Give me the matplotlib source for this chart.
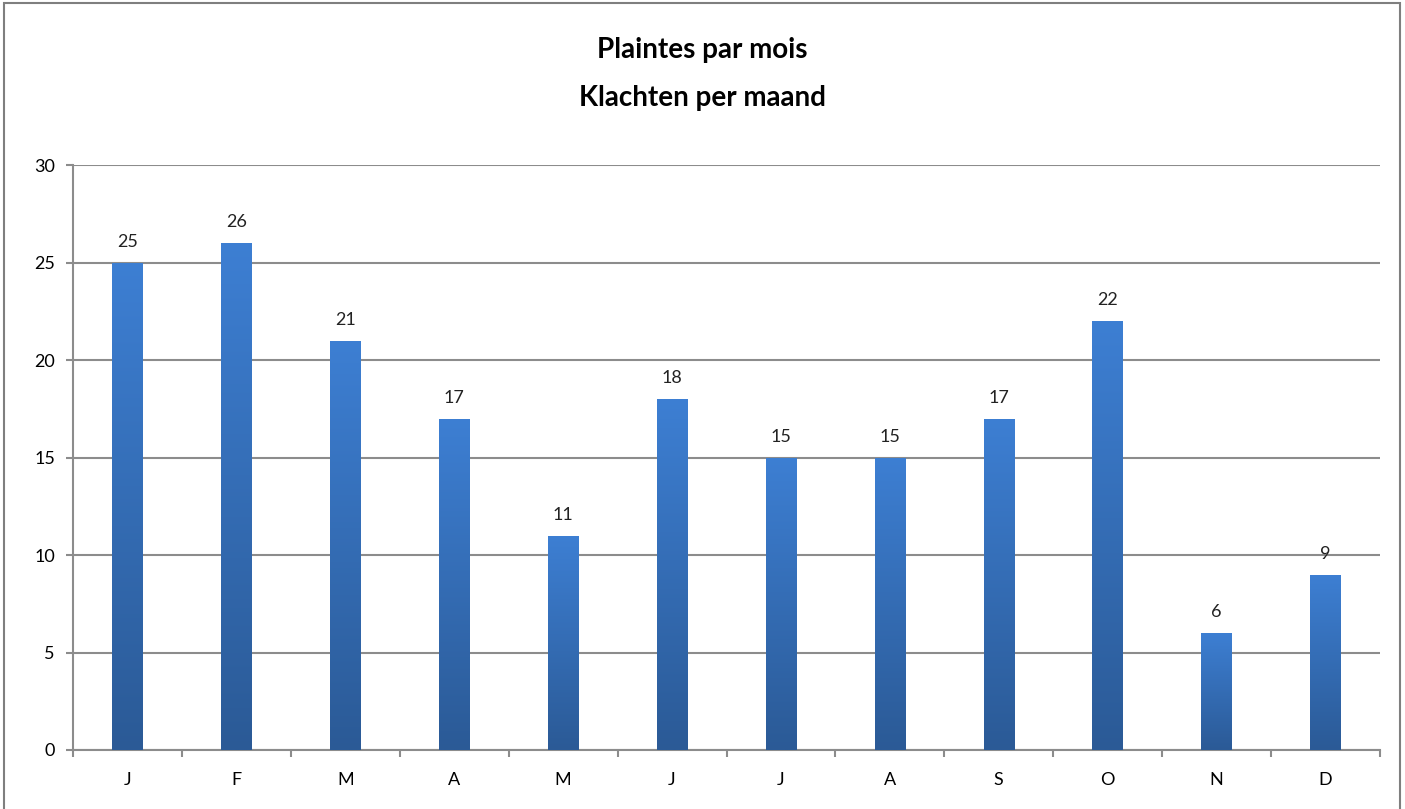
import matplotlib
matplotlib.use("Agg")
import matplotlib.pyplot as plt
import numpy as np
from matplotlib.patches import Rectangle
from matplotlib.colors import LinearSegmentedColormap

months = ["J", "F", "M", "A", "M", "J", "J", "A", "S", "O", "N", "D"]
values = [25, 26, 21, 17, 11, 18, 15, 15, 17, 22, 6, 9]
yticks = [0, 5, 10, 15, 20, 25, 30]
title_lines = ["Plaintes par mois", "Klachten per maand"]

fam = ["Lato", "DejaVu Sans"]
plt.rcParams["font.family"] = fam

fig = plt.figure(figsize=(14.05, 8.09), dpi=100)
ax = fig.add_axes([73/1405, 1-750/809, (1380-73)/1405, (750-165)/809])

grid_c = "#8c8c8c"
x = np.arange(len(months))
bw = 0.28
cmap = LinearSegmentedColormap.from_list("g", ["#2b5a96", "#3d7fd3"])
grad = np.linspace(0, 1, 256).reshape(-1, 1)
bars = ax.bar(x, values, width=bw, color="none", zorder=3)
for b, v in zip(bars, values):
    x0 = b.get_x()
    im = ax.imshow(grad, extent=[x0, x0 + bw, 0, v], origin="lower", cmap=cmap,
                   aspect="auto", zorder=3, interpolation="bilinear")
    im.set_clip_path(b)
    ax.text(b.get_x() + bw/2, v + 0.65, str(v), ha="center", va="bottom",
            fontsize=13, color="#222222")

ax.set_xlim(-0.5, len(months) - 0.5)
ax.set_ylim(0, 30)
ax.set_yticks(yticks)
ax.set_yticklabels([str(t) for t in yticks], fontsize=13)
ax.set_xticks(x)
ax.set_xticklabels(months, fontsize=13)
ax.set_xticks(np.arange(-0.5, len(months)), minor=True)
ax.tick_params(axis="x", which="major", length=0, pad=16)
ax.tick_params(axis="x", which="minor", length=5, color=grid_c, width=1.5)
ax.tick_params(axis="y", length=5, color=grid_c, width=1.5, pad=8)
ax.yaxis.grid(True, color=grid_c, linewidth=1.5, zorder=0)
ax.set_axisbelow(True)
for s in ["top", "right"]:
    ax.spines[s].set_visible(False)
for s in ["left", "bottom"]:
    ax.spines[s].set_color(grid_c)
    ax.spines[s].set_linewidth(1.5)

fig.text(0.5, 1 - 50/809, title_lines[0], ha="center", va="center",
         fontsize=20, fontweight="bold")
fig.text(0.5, 1 - 98/809, title_lines[1], ha="center", va="center",
         fontsize=20, fontweight="bold")

fig.add_artist(Rectangle((4/1405, -0.05), (1400-4)/1405, 1.05 - 3/809,
                         transform=fig.transFigure, fill=False,
                         edgecolor="#7f7f7f", linewidth=1.5))

fig.savefig("out.png", dpi=100)
